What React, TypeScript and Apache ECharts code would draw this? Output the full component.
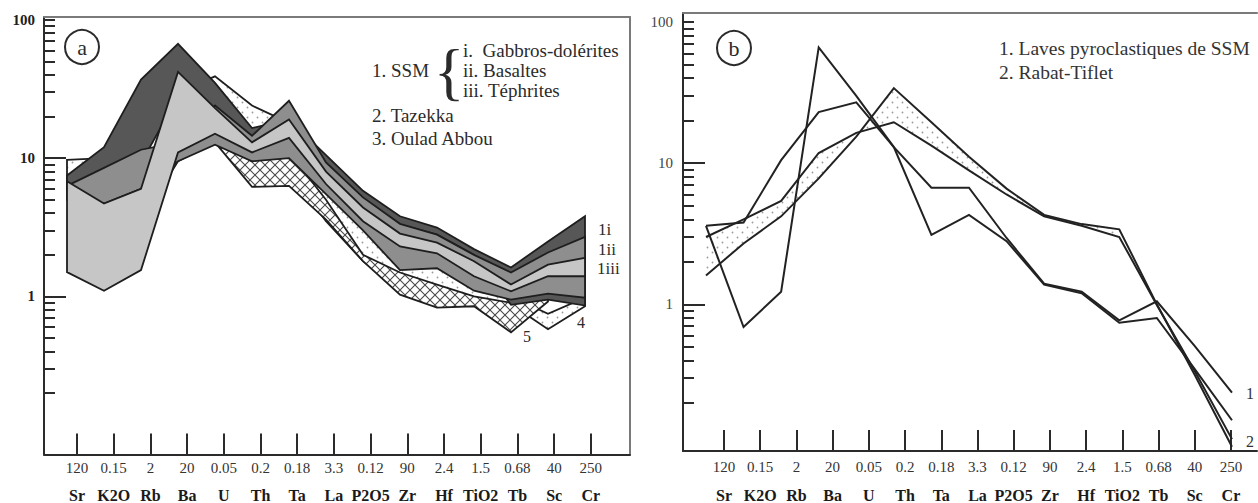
import React, { useEffect, useRef } from "react";
import * as echarts from "echarts";

const FONT = '"Liberation Serif", "Times New Roman", serif';

// Categories and normalisation values (shared by both panels)
const ELEMENTS = ["Sr", "K2O", "Rb", "Ba", "U", "Th", "Ta", "La", "P2O5", "Zr", "Hf", "TiO2", "Tb", "Sc", "Cr"];
const NORMALIZERS = ["120", "0.15", "2", "20", "0.05", "0.2", "0.18", "3.3", "0.12", "90", "2.4", "1.5", "0.68", "40", "250"];

// Y axis (log) labels / ticks
const Y_LABELS = [1, 10, 100];
const Y_MAJOR_TICKS = [1, 10];
const Y_MINOR_TICKS = [0.2, 0.3, 0.4, 0.5, 0.6, 0.7, 0.8, 0.9, 2, 3, 4, 5, 6, 7, 8, 9, 20, 30, 40, 50, 60, 70, 80, 90, 100];

// ---- Panel a : fields (upper / lower envelopes) ----
const TAZEKKA_UP = [9.7, 10, 12, 30, 39, 24, 18, 9, 4.5, 3.0, 2.4, 1.8, 1.0, 0.75, 0.98];
const TAZEKKA_LO = [6.5, 6, 3.5, 9.5, 13, 8, 8, 3.5, 1.8, 1.1, 0.9, 0.9, 0.88, 0.58, 0.85];
const OULAD_UP = [null, null, null, null, 13.5, 9.5, 11, 5.0, 2.0, 1.49, 1.22, 1.0, 0.9, 1.0, null];
const OULAD_LO = [null, null, null, null, 13.0, 6.2, 6.3, 3.6, 1.8, 1.03, 0.83, 0.85, 0.55, 0.92, null];
const GABBRO_UP = [7.5, 12, 37, 67, 35, 16.5, 19, 10.5, 5.8, 3.8, 3.15, 2.2, 1.62, 2.5, 3.8];
const GABBRO_LO = [5.8, 8.3, 9.2, 28, 22, 11.5, 12, 8.5, 4.4, 3.3, 2.8, 2.0, 0.87, 0.95, 0.86];
const BASALT_UP = [6.3, 8.5, 11.5, 13, 24, 14.5, 26, 9.3, 5.2, 3.35, 2.8, 2.0, 1.49, 2.08, 2.7];
const BASALT_LO = [5.0, 4.7, 6.0, 9.5, 12.5, 9.5, 10, 5.5, 3.0, 1.55, 1.6, 1.1, 0.95, 1.05, 0.98];
const TEPHRITE_UP = [6.8, 4.7, 6.0, 42, 23, 13, 19, 8.0, 4.4, 2.85, 2.45, 1.8, 1.22, 1.7, 1.9];
const TEPHRITE_LO = [1.5, 1.1, 1.55, 11, 15, 11, 14, 6.5, 3.5, 2.3, 2.05, 1.4, 1.09, 1.4, 1.4];

// ---- Panel b : lines ----
const LAVES_A = [1.6, 2.7, 4.2, 7.8, 15.4, 34, 19.5, 11.1, 6.6, 4.3, 3.7, 3.4, 1.0, 0.32, 0.098];
const LAVES_B = [3.0, 4.0, 5.4, 11.8, 16.4, 19.5, 13.3, 8.9, 6.0, 4.2, 3.6, 3.0, 0.99, 0.34, 0.111];
const RABAT_A = [3.6, 3.8, 10.5, 23, 27, 13, 6.7, 6.7, 2.95, 1.4, 1.23, 0.77, 1.05, 0.51, 0.237];
const RABAT_B = [3.6, 0.69, 1.23, 66, 30, 13, 3.1, 4.3, 2.8, 1.38, 1.2, 0.74, 0.8, 0.35, 0.151];
const LAVES_FIELD_END = 11; // dotted field drawn Sr..TiO2

// axis ranges (data index units / log10 units)
const A_XMIN = -0.6216, A_XMAX = 15.2162, A_T0 = 0.27, A_STEP = 0.992;
const B_XMIN = -0.612, B_XMAX = 14.666, B_T0 = 0.479, B_STEP = 0.9638;
const A_YMIN = -1.1423, A_YMAX = 2.0202;
const B_YMIN = -1.0389, B_YMAX = 2.0636;

const L = (v: number) => Math.log10(v);

function makeHatch() {
  const c = document.createElement("canvas");
  c.width = 10; c.height = 10;
  const g = c.getContext("2d")!;
  g.fillStyle = "#ffffff"; g.fillRect(0, 0, 10, 10);
  g.strokeStyle = "#4a4a4a"; g.lineWidth = 1.1;
  g.beginPath();
  g.moveTo(-1, -1); g.lineTo(11, 11);
  g.moveTo(11, -1); g.lineTo(-1, 11);
  g.stroke();
  return { image: c.toDataURL(), repeat: "repeat", imageWidth: 10, imageHeight: 10 };
}

function makeDots(bg: boolean) {
  const c = document.createElement("canvas");
  c.width = 10; c.height = 10;
  const g = c.getContext("2d")!;
  if (bg) { g.fillStyle = "#ffffff"; g.fillRect(0, 0, 10, 10); }
  g.fillStyle = "#9a9a9a";
  g.beginPath(); g.arc(2.5, 2.5, 0.9, 0, Math.PI * 2); g.fill();
  g.beginPath(); g.arc(7.5, 7.5, 0.9, 0, Math.PI * 2); g.fill();
  return { image: c.toDataURL(), repeat: "repeat", imageWidth: 10, imageHeight: 10 };
}

function bandSeries(name: string, up: (number | null)[], lo: (number | null)[], fill: any, xi: number, yi: number, stroke: boolean, lastIdx?: number) {
  const idx: number[] = [];
  up.forEach((v, i) => { if (v != null && lo[i] != null && (lastIdx == null || i <= lastIdx)) idx.push(i); });
  return {
    type: "custom",
    name,
    xAxisIndex: xi,
    yAxisIndex: yi,
    silent: true,
    data: idx.map((i) => [i, L(up[i] as number), L(lo[i] as number)]),
    encode: { x: 0, y: [1, 2] },
    renderItem: (params: any, api: any) => {
      if (params.dataIndex !== 0) return null;
      const pts: number[][] = [];
      idx.forEach((i) => pts.push(api.coord([i, L(up[i] as number)])));
      idx.slice().reverse().forEach((i) => pts.push(api.coord([i, L(lo[i] as number)])));
      return {
        type: "polygon",
        shape: { points: pts },
        style: stroke
          ? { fill, stroke: "#1e1e1e", lineWidth: 1.8, lineJoin: "miter" }
          : { fill, stroke: null },
      };
    },
  };
}

function lineSeries(name: string, vals: number[], xi: number, yi: number) {
  return {
    type: "line",
    name,
    xAxisIndex: xi,
    yAxisIndex: yi,
    data: vals.map((v, i) => [i, L(v)]),
    symbol: "none",
    showSymbol: false,
    silent: true,
    lineStyle: { color: "#222", width: 2, join: "miter" },
  };
}

function xAxes(gi: number, min: number, max: number, t0: number, step: number, margin: number, lh: number) {
  const ticks = ELEMENTS.map((_, i) => t0 + step * i);
  return [
    {
      gridIndex: gi, type: "value", min, max, position: "bottom",
      axisLine: { show: true, onZero: false, lineStyle: { color: "#2b2b2b", width: 2 } },
      axisTick: { show: true, inside: true, length: 21, customValues: ticks, lineStyle: { color: "#2b2b2b", width: 2 } },
      axisLabel: {
        show: true, customValues: ticks, margin,
        formatter: (v: number) => {
          const i = Math.round((v - t0) / step);
          return `{n|${NORMALIZERS[i]}}\n{e|${ELEMENTS[i]}}`;
        },
        rich: {
          n: { fontSize: 15, fontFamily: FONT, color: "#333", lineHeight: lh },
          e: { fontSize: 16, fontFamily: FONT, fontWeight: "bold", color: "#1a1a1a", lineHeight: lh },
        },
      },
      splitLine: { show: false },
    },
    {
      gridIndex: gi, type: "value", min, max, position: "top",
      axisLine: { show: true, onZero: false, lineStyle: { color: "#7a7a7a", width: 2 } },
      axisTick: { show: false }, axisLabel: { show: false }, splitLine: { show: false },
    },
  ];
}

function yAxes(gi: number, min: number, max: number, bold: boolean, withRight: boolean) {
  const axes: any[] = [
    {
      gridIndex: gi, type: "value", min, max, position: "left",
      axisLine: { show: true, onZero: false, lineStyle: { color: "#2b2b2b", width: 2 } },
      axisTick: { show: true, inside: true, length: 22, customValues: Y_MAJOR_TICKS.map(L), lineStyle: { color: "#2b2b2b", width: 2 } },
      axisLabel: {
        show: true, customValues: Y_LABELS.map(L), margin: bold ? 9 : 10,
        formatter: (v: number) => String(Math.round(Math.pow(10, v))),
        fontSize: 15, fontFamily: FONT, fontWeight: bold ? "bold" : "normal", color: bold ? "#1e1e1e" : "#444",
      },
      splitLine: { show: false },
    },
    {
      gridIndex: gi, type: "value", min, max, position: "left",
      axisLine: { show: false, onZero: false },
      axisTick: { show: true, inside: true, length: 11, customValues: Y_MINOR_TICKS.map(L), lineStyle: { color: "#2b2b2b", width: 2 } },
      axisLabel: { show: false }, splitLine: { show: false },
    },
  ];
  if (withRight) {
    axes.push({
      gridIndex: gi, type: "value", min, max, position: "right",
      axisLine: { show: true, onZero: false, lineStyle: { color: "#7a7a7a", width: 2 } },
      axisTick: { show: false }, axisLabel: { show: false }, splitLine: { show: false },
    });
  }
  return axes;
}

function txt(x: number, y: number, text: string, size: number, align = "left", color = "#2b2b2b") {
  return {
    type: "text", x, y, z: 100,
    style: { text, fill: color, font: `${size}px ${FONT}`, textAlign: align, textVerticalAlign: "middle", align, verticalAlign: "middle" },
  };
}

function buildOption(hatch: any, dotsA: any, dotsB: any) {
  // x axes: 0 a-bottom, 1 a-top, 2 b-bottom, 3 b-top ; y axes: 0 a-major, 1 a-minor, 2 a-right, 3 b-major, 4 b-minor
  return {
    animation: false,
    backgroundColor: "#ffffff",
    grid: [
      { left: 44, top: 17, width: 586, height: 438 },
      { left: 683, top: 13, width: 574, height: 439 },
    ],
    xAxis: [
      ...xAxes(0, A_XMIN, A_XMAX, A_T0, A_STEP, 0, 27),
      ...xAxes(1, B_XMIN, B_XMAX, B_T0, B_STEP, 2, 28),
    ],
    yAxis: [
      ...yAxes(0, A_YMIN, A_YMAX, true, true),
      ...yAxes(1, B_YMIN, B_YMAX, false, false),
    ],
    series: [
      bandSeries("Tazekka", TAZEKKA_UP, TAZEKKA_LO, dotsA, 0, 0, true),
      bandSeries("Oulad Abbou", OULAD_UP, OULAD_LO, hatch, 0, 0, true),
      bandSeries("Gabbros-dolérites", GABBRO_UP, GABBRO_LO, "#575757", 0, 0, true),
      bandSeries("Basaltes", BASALT_UP, BASALT_LO, "#8e8e8e", 0, 0, true),
      bandSeries("Téphrites", TEPHRITE_UP, TEPHRITE_LO, "#c6c6c6", 0, 0, true),
      bandSeries("Laves pyroclastiques de SSM", LAVES_A, LAVES_B, dotsB, 2, 3, false, LAVES_FIELD_END),
      lineSeries("Laves 1", LAVES_A, 2, 3),
      lineSeries("Laves 2", LAVES_B, 2, 3),
      lineSeries("Rabat-Tiflet 1", RABAT_A, 2, 3),
      lineSeries("Rabat-Tiflet 2", RABAT_B, 2, 3),
    ],
    graphic: [
      { type: "circle", z: 100, shape: { cx: 82, cy: 47, r: 17 }, style: { fill: "none", stroke: "#2b2b2b", lineWidth: 2 } },
      txt(82, 47, "a", 22, "center"),
      txt(372, 70, "1. SSM", 19),
      txt(449, 71, "{", 64, "center"),
      txt(463, 50, "i.  Gabbros-dolérites", 19),
      txt(463, 70, "ii. Basaltes", 19),
      txt(463, 90, "iii. Téphrites", 19),
      txt(372, 115, "2. Tazekka", 19),
      txt(372, 138, "3. Oulad Abbou", 19),
      txt(598, 229, "1i", 17),
      txt(598, 249, "1ii", 17),
      txt(597, 268, "1iii", 17),
      txt(523, 336, "5", 16),
      txt(577, 322, "4", 16),
      { type: "circle", z: 100, shape: { cx: 734, cy: 48, r: 17 }, style: { fill: "none", stroke: "#2b2b2b", lineWidth: 2 } },
      txt(734, 48, "b", 22, "center"),
      txt(999, 48, "1. Laves pyroclastiques de SSM", 19.5, "left", "#333"),
      txt(999, 72, "2. Rabat-Tiflet", 19.5, "left", "#333"),
      txt(1246, 393, "1", 16, "left", "#333"),
      txt(1246, 441, "2", 16, "left", "#333"),
    ],
  };
}

export default function App() {
  const ref = useRef<HTMLDivElement>(null);
  useEffect(() => {
    if (!ref.current) return;
    const chart = echarts.init(ref.current, null, { renderer: "svg" });
    const hatch = makeHatch();
    const dotsA = makeDots(true);
    const dotsB = makeDots(false);
    chart.setOption(buildOption(hatch, dotsA, dotsB) as any);
    return () => chart.dispose();
  }, []);
  return (
    <div
      ref={ref}
      style={{ position: "fixed", left: 0, top: 0, width: 1258, height: 503, background: "#fff" }}
    />
  );
}
